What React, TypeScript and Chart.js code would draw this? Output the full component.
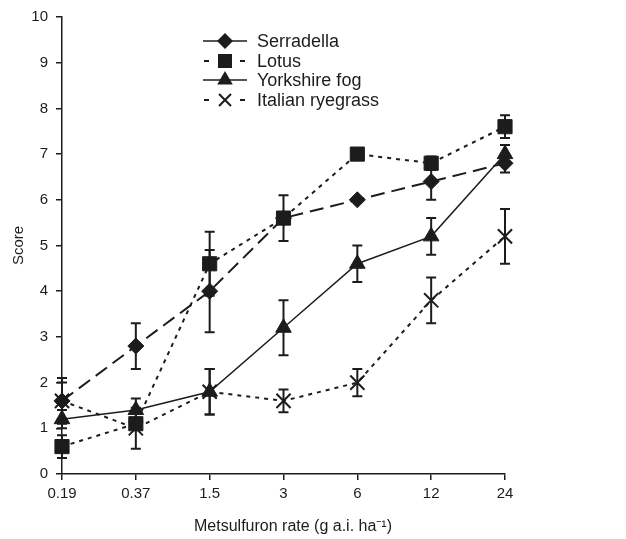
import React, { useEffect, useRef } from "react";
import { Chart, registerables } from "chart.js";

Chart.register(...registerables);

const categories = ["0.19", "0.37", "1.5", "3", "6", "12", "24"];
const serradella = [1.6, 2.8, 4.0, 5.6, 6.0, 6.4, 6.8];
const serradellaErr = [0.4, 0.5, 0.9, 0, 0, 0.4, 0.2];
const lotus = [0.6, 1.1, 4.6, 5.6, 7.0, 6.8, 7.6];
const lotusErr = [0.25, 0, 0.7, 0.5, 0, 0.15, 0.25];
const yorkshire = [1.2, 1.4, 1.8, 3.2, 4.6, 5.2, 7.0];
const yorkshireErr = [0.2, 0.25, 0.5, 0.6, 0.4, 0.4, 0.2];
const italian = [1.6, 1.0, 1.8, 1.6, 2.0, 3.8, 5.2];
const italianErr = [0.5, 0.45, 0.5, 0.25, 0.3, 0.5, 0.6];
const yTicks = [0, 1, 2, 3, 4, 5, 6, 7, 8, 9, 10];
const xTitle = "Metsulfuron rate (g a.i. ha⁻¹)";

const FONT = "'Liberation Sans', Arial, Helvetica, sans-serif";
const INK = "#1c1c1c";

const errorBarPlugin = {
  id: "errorBars",
  afterDatasetsDraw(chart: any) {
    const ctx = chart.ctx;
    const x = chart.scales.x;
    const y = chart.scales.y;
    ctx.save();
    ctx.strokeStyle = INK;
    ctx.lineWidth = 2;
    ctx.setLineDash([]);
    chart.data.datasets.forEach((ds: any) => {
      const errs = ds.errors || [];
      ds.data.forEach((v: number, i: number) => {
        const e = errs[i];
        if (!e) return;
        const px = x.getPixelForValue(i);
        const top = y.getPixelForValue(v + e);
        const bot = y.getPixelForValue(v - e);
        ctx.beginPath();
        ctx.moveTo(px, top);
        ctx.lineTo(px, bot);
        ctx.moveTo(px - 5, top);
        ctx.lineTo(px + 5, top);
        ctx.moveTo(px - 5, bot);
        ctx.lineTo(px + 5, bot);
        ctx.stroke();
      });
    });
    ctx.restore();
  },
};

function drawMarker(ctx: CanvasRenderingContext2D, style: string, cx: number, cy: number) {
  ctx.save();
  ctx.fillStyle = INK;
  ctx.strokeStyle = INK;
  ctx.setLineDash([]);
  ctx.beginPath();
  if (style === "rectRot") {
    const r = 8;
    ctx.moveTo(cx, cy - r);
    ctx.lineTo(cx + r, cy);
    ctx.lineTo(cx, cy + r);
    ctx.lineTo(cx - r, cy);
    ctx.closePath();
    ctx.fill();
  } else if (style === "rect") {
    const h = 7;
    ctx.rect(cx - h, cy - h, 2 * h, 2 * h);
    ctx.fill();
  } else if (style === "triangle") {
    const r = 9;
    ctx.moveTo(cx, cy - r);
    ctx.lineTo(cx + r * 0.866, cy + r * 0.5);
    ctx.lineTo(cx - r * 0.866, cy + r * 0.5);
    ctx.closePath();
    ctx.fill();
  } else {
    const r = 6;
    ctx.lineWidth = 2;
    ctx.moveTo(cx - r, cy - r);
    ctx.lineTo(cx + r, cy + r);
    ctx.moveTo(cx + r, cy - r);
    ctx.lineTo(cx - r, cy + r);
    ctx.stroke();
  }
  ctx.restore();
}

const legendPlugin = {
  id: "customLegend",
  afterDraw(chart: any) {
    const ctx = chart.ctx;
    const rows = [
      { label: "Serradella", style: "rectRot", solid: true, y: 41 },
      { label: "Lotus", style: "rect", solid: false, y: 61 },
      { label: "Yorkshire fog", style: "triangle", solid: true, y: 80 },
      { label: "Italian ryegrass", style: "crossRot", solid: false, y: 100 },
    ];
    ctx.save();
    ctx.strokeStyle = INK;
    rows.forEach((r) => {
      ctx.beginPath();
      ctx.setLineDash([]);
      if (r.solid) {
        ctx.lineWidth = 1.5;
        ctx.moveTo(203, r.y);
        ctx.lineTo(247, r.y);
      } else {
        ctx.lineWidth = 2;
        ctx.moveTo(204, r.y);
        ctx.lineTo(209, r.y);
        ctx.moveTo(240, r.y);
        ctx.lineTo(245, r.y);
      }
      ctx.stroke();
      drawMarker(ctx, r.style, 225, r.y);
      ctx.fillStyle = INK;
      ctx.font = `18px ${FONT}`;
      ctx.textBaseline = "middle";
      ctx.textAlign = "left";
      ctx.fillText(r.label, 257, r.y + 1);
    });
    ctx.font = `16px ${FONT}`;
    ctx.textAlign = "center";
    ctx.textBaseline = "middle";
    ctx.fillStyle = INK;
    ctx.fillText(xTitle, 293, 527);
    ctx.restore();
  },
};

export default function App() {
  const ref = useRef<HTMLCanvasElement>(null);
  useEffect(() => {
    if (!ref.current) return;
    const chart = new Chart(ref.current, {
      type: "line",
      data: {
        labels: categories,
        datasets: [
          {
            label: "Serradella",
            data: serradella,
            errors: serradellaErr,
            borderColor: INK,
            backgroundColor: INK,
            borderWidth: 2,
            borderDash: [14, 7],
            pointStyle: "rectRot",
            pointRadius: 8,
            pointBorderWidth: 1,
          } as any,
          {
            label: "Lotus",
            data: lotus,
            errors: lotusErr,
            borderColor: INK,
            backgroundColor: INK,
            borderWidth: 2,
            borderDash: [4, 5],
            pointStyle: "rect",
            pointRadius: 10,
            pointBorderWidth: 1,
          } as any,
          {
            label: "Yorkshire fog",
            data: yorkshire,
            errors: yorkshireErr,
            borderColor: INK,
            backgroundColor: INK,
            borderWidth: 1.5,
            pointStyle: "triangle",
            pointRadius: 9,
            pointBorderWidth: 1,
          } as any,
          {
            label: "Italian ryegrass",
            data: italian,
            errors: italianErr,
            borderColor: INK,
            backgroundColor: INK,
            borderWidth: 2,
            borderDash: [4, 5],
            pointStyle: "crossRot",
            pointRadius: 10,
            pointBorderWidth: 2,
          } as any,
        ],
      },
      options: {
        animation: false,
        responsive: true,
        maintainAspectRatio: false,
        layout: { padding: { left: 0, top: 15, right: 121, bottom: 0 } },
        plugins: {
          legend: { display: false },
          tooltip: { enabled: false },
        },
        elements: { line: { tension: 0 } },
        scales: {
          x: {
            type: "category",
            offset: false,
            grid: {
              display: true,
              drawOnChartArea: false,
              drawTicks: true,
              tickLength: 6,
              color: INK,
              lineWidth: 1.5,
            },
            border: { display: true, color: INK, width: 1.5 },
            ticks: {
              color: INK,
              font: { family: FONT, size: 15 },
              padding: 5,
              maxRotation: 0,
              autoSkip: false,
            },
            title: { display: false },
            afterFit(scale: any) {
              scale.height = 65;
            },
          },
          y: {
            min: 0,
            max: 10,
            grid: {
              display: true,
              drawOnChartArea: false,
              drawTicks: true,
              tickLength: 6,
              color: INK,
              lineWidth: 1.5,
            },
            border: { display: true, color: INK, width: 1.5 },
            afterBuildTicks(scale: any) {
              scale.ticks = yTicks.map((v) => ({ value: v }));
            },
            ticks: {
              color: INK,
              font: { family: FONT, size: 15 },
              padding: 8,
            },
            title: {
              display: true,
              text: "Score",
              color: INK,
              font: { family: FONT, size: 15 },
              padding: { top: 10, bottom: 0 },
            },
            afterFit(scale: any) {
              scale.width = 62;
            },
          },
        },
      },
      plugins: [errorBarPlugin, legendPlugin],
    });
    return () => chart.destroy();
  }, []);
  return (
    <div style={{ position: "fixed", left: 0, top: 0, width: 626, height: 539, background: "#fff" }}>
      <canvas ref={ref} />
    </div>
  );
}
